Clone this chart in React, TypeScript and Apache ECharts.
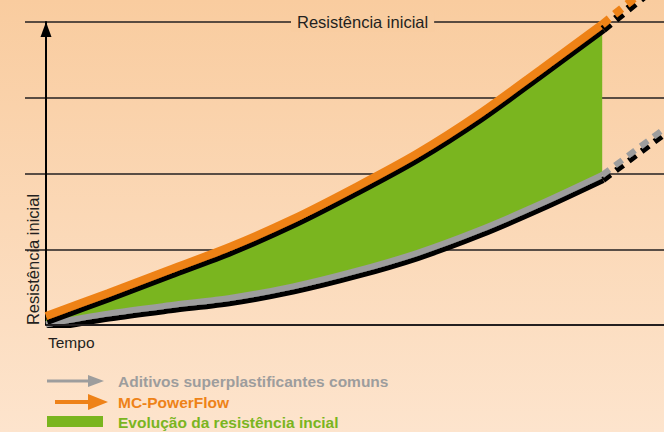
import React, { useEffect, useRef } from "react";
import * as echarts from "echarts";

const time = [0, 10, 20, 30, 40, 50, 60, 70, 80, 90];
const mcPowerFlow = [0.12, 0.42, 0.73, 1.04, 1.4, 1.815, 2.26, 2.78, 3.37, 3.97];
const aditivos = [0.01, 0.15, 0.26, 0.36, 0.51, 0.71, 0.95, 1.25, 1.6, 1.98];
const timeProjected = [90, 100];
const mcPowerFlowProjected = [3.97, 4.63];
const aditivosProjected = [1.98, 2.59];
const yTicks = [0, 1, 2, 3, 4];

const seriesNames = [
  "Aditivos superplastificantes comuns",
  "MC-PowerFlow",
  "Evolução da resistência incial",
];
const titleText = "Resistência inicial";
const yAxisName = "Resistência inicial";
const xAxisName = "Tempo";

const ORANGE = "#ee8218";
const GRAY = "#9d9d9d";
const GREEN = "#7ab51f";
const FONT = "'Liberation Sans', Arial, sans-serif";

export default function App() {
  const ref = useRef<HTMLDivElement>(null);
  useEffect(() => {
    if (!ref.current) return;
    const chart = echarts.init(ref.current, null, { renderer: "svg" });
    const pairs = (xs: number[], ys: number[]) => xs.map((x, i) => [x, ys[i]]);
    // value first, time second: lets the stack run on the value dimension
    const pairsYX = (xs: number[], ys: number[]) => xs.map((x, i) => [ys[i], x]);
    const shadow = {
      shadowColor: "#000",
      shadowBlur: 0,
      shadowOffsetX: 1,
      shadowOffsetY: 5,
    };
    const smooth = 0.3;
    chart.setOption({
      animation: false,
      backgroundColor: "transparent",
      title: {
        text: titleText,
        left: 291,
        top: 12,
        padding: [0, 6],
        backgroundColor: "#f9cda1",
        textStyle: {
          fontFamily: FONT,
          fontSize: 16.5,
          fontWeight: "normal",
          color: "#231f20",
          lineHeight: 20,
        },
      },
      graphic: [
        {
          type: "rect",
          z: -10,
          silent: true,
          shape: { x: 0, y: 0, width: 664, height: 432 },
          style: {
            fill: {
              type: "linear",
              x: 0,
              y: 0,
              x2: 0,
              y2: 1,
              colorStops: [
                { offset: 0, color: "#f9cc9f" },
                { offset: 1, color: "#fde4cd" },
              ],
            },
          },
        },
        {
          type: "line",
          shape: { x1: 47, y1: 381, x2: 90, y2: 381 },
          style: { stroke: GRAY, lineWidth: 3 },
        },
        {
          type: "polygon",
          shape: { points: [[88, 375], [104, 381], [88, 387]] },
          style: { fill: GRAY },
        },
        {
          type: "line",
          shape: { x1: 55, y1: 402, x2: 90, y2: 402 },
          style: { stroke: ORANGE, lineWidth: 4 },
        },
        {
          type: "polygon",
          shape: { points: [[88, 394], [108, 402], [88, 410]] },
          style: { fill: ORANGE },
        },
        {
          type: "rect",
          shape: { x: 47, y: 416, width: 56, height: 11 },
          style: { fill: GREEN },
        },
        {
          type: "text",
          x: 118,
          y: 381,
          style: {
            text: seriesNames[0],
            fill: GRAY,
            font: `bold 15.5px ${FONT}`,
            verticalAlign: "middle",
          },
        },
        {
          type: "text",
          x: 118,
          y: 402,
          style: {
            text: seriesNames[1],
            fill: ORANGE,
            font: `bold 15.5px ${FONT}`,
            verticalAlign: "middle",
          },
        },
        {
          type: "text",
          x: 118,
          y: 422,
          style: {
            text: seriesNames[2],
            fill: GREEN,
            font: `bold 15.5px ${FONT}`,
            verticalAlign: "middle",
          },
        },
      ],
      grid: { left: 25, right: 0, top: 22, bottom: 107, outerBoundsMode: "none", containLabel: false },
      xAxis: {
        type: "value",
        min: -3.4,
        max: 100,
        axisLine: { show: false },
        axisTick: { show: false },
        axisLabel: { show: false },
        splitLine: { show: false },
        name: xAxisName,
        nameLocation: "start",
        nameGap: -23,
        nameTextStyle: {
          fontFamily: FONT,
          fontSize: 15.5,
          color: "#231f20",
          align: "left",
          verticalAlign: "top",
          padding: [9, 0, 0, 0],
        },
      },
      yAxis: {
        type: "value",
        min: yTicks[0],
        max: yTicks[yTicks.length - 1],
        interval: 1,
        axisLine: {
          show: true,
          onZero: true,
          lineStyle: { color: "#000", width: 2 },
          symbol: ["none", "triangle"],
          symbolSize: [11, 15],
          symbolOffset: [0, -7.5],
        },
        axisTick: { show: false },
        axisLabel: { show: false },
        splitLine: {
          show: true,
          lineStyle: {
            color: ["rgba(0,0,0,0)", "#231f20", "#231f20", "#231f20", "#231f20"],
            width: 1.6,
          },
        },
        name: yAxisName,
        nameLocation: "middle",
        nameRotate: 90,
        nameGap: -16,
        nameTextStyle: {
          fontFamily: FONT,
          fontSize: 16.5,
          color: "#231f20",
          padding: [0, 172, 0, 0],
        },
      },
      series: [
        {
          type: "line",
          name: "base",
          stack: "band",
          smooth,
          symbol: "none",
          encode: { x: 1, y: 0 },
          data: pairsYX(time, aditivos),
          lineStyle: { width: 0, opacity: 0 },
          silent: true,
        },
        {
          type: "line",
          name: seriesNames[2],
          stack: "band",
          smooth,
          symbol: "none",
          encode: { x: 1, y: 0 },
          data: pairsYX(
            time,
            mcPowerFlow.map((v, i) => v - aditivos[i])
          ),
          lineStyle: { width: 0, opacity: 0 },
          areaStyle: { color: GREEN, opacity: 1 },
          silent: true,
        },
        {
          type: "line",
          name: seriesNames[0],
          smooth,
          symbol: "none",
          color: GRAY,
          data: pairs(time, aditivos),
          lineStyle: { color: GRAY, width: 6, cap: "butt", ...shadow },
          markLine: {
            silent: true,
            symbol: "none",
            label: { show: false },
            lineStyle: { color: "#231f20", width: 2, type: "solid", shadowBlur: 0, shadowOffsetY: 0, shadowOffsetX: 0 },
            data: [[{ coord: [0, 0] }, { coord: [100, 0] }]],
          },
        },
        {
          type: "line",
          name: seriesNames[0],
          symbol: "none",
          clip: false,
          color: GRAY,
          data: pairs(timeProjected, aditivosProjected),
          lineStyle: { color: GRAY, width: 6, type: [9, 7], cap: "butt", ...shadow },
        },
        {
          type: "line",
          name: seriesNames[1],
          smooth,
          symbol: "none",
          color: ORANGE,
          data: pairs(time, mcPowerFlow),
          lineStyle: { color: ORANGE, width: 8, cap: "butt", ...shadow },
        },
        {
          type: "line",
          name: seriesNames[1],
          symbol: "none",
          clip: false,
          color: ORANGE,
          data: pairs(timeProjected, mcPowerFlowProjected),
          lineStyle: { color: ORANGE, width: 8, type: [9, 7], cap: "butt", ...shadow },
        },
      ],
    });
    return () => chart.dispose();
  }, []);
  return (
    <div
      ref={ref}
      style={{ position: "absolute", left: 0, top: 0, width: 664, height: 432 }}
    />
  );
}
